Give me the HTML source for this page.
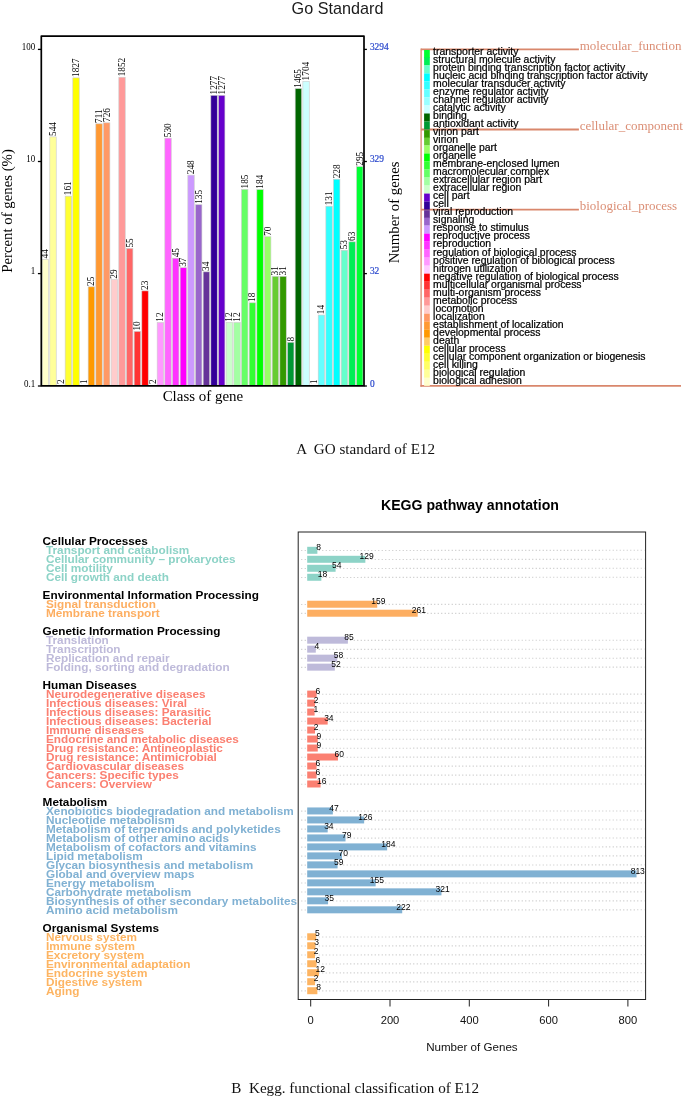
<!DOCTYPE html>
<html><head><meta charset="utf-8"><title>GO and KEGG</title>
<style>html,body{margin:0;padding:0;background:#fff}svg{display:block}</style></head>
<body><svg width="685" height="1098" viewBox="0 0 685 1098">
<rect width="685" height="1098" fill="#fff"/>
<text x="337.5" y="13.7" font-family="Liberation Sans, sans-serif" font-size="16.2" text-anchor="middle" fill="#1a1a1a">Go Standard</text>
<rect x="42.15" y="259.31" width="6.4" height="126.49" fill="#FFFFCC" stroke="#cccccc" stroke-width="0.6"/>
<text transform="translate(48.35,258.41) rotate(-90)" font-family="Liberation Serif, serif" font-size="9.3" fill="#000">44</text>
<rect x="49.82" y="136.88" width="6.4" height="248.92" fill="#FFFF99" stroke="#cccccc" stroke-width="0.6"/>
<text transform="translate(56.02,135.98) rotate(-90)" font-family="Liberation Serif, serif" font-size="9.3" fill="#000">544</text>
<text transform="translate(63.69,383.90) rotate(-90)" font-family="Liberation Serif, serif" font-size="9.3" fill="#000">2</text>
<rect x="65.15" y="196.15" width="6.4" height="189.65" fill="#FFFF33" stroke="#cccccc" stroke-width="0.6"/>
<text transform="translate(71.35,195.25) rotate(-90)" font-family="Liberation Serif, serif" font-size="9.3" fill="#000">161</text>
<rect x="72.82" y="77.90" width="6.4" height="307.90" fill="#FFFF00" stroke="#cccccc" stroke-width="0.6"/>
<text transform="translate(79.02,77.00) rotate(-90)" font-family="Liberation Serif, serif" font-size="9.3" fill="#000">1827</text>
<text transform="translate(86.69,383.90) rotate(-90)" font-family="Liberation Serif, serif" font-size="9.3" fill="#000">1</text>
<rect x="88.16" y="286.83" width="6.4" height="98.97" fill="#FF9900" stroke="#cccccc" stroke-width="0.6"/>
<text transform="translate(94.36,285.93) rotate(-90)" font-family="Liberation Serif, serif" font-size="9.3" fill="#000">25</text>
<rect x="95.83" y="123.84" width="6.4" height="261.96" fill="#FF9933" stroke="#cccccc" stroke-width="0.6"/>
<text transform="translate(102.03,122.94) rotate(-90)" font-family="Liberation Serif, serif" font-size="9.3" fill="#000">711</text>
<rect x="103.49" y="122.83" width="6.4" height="262.97" fill="#FF9966" stroke="#cccccc" stroke-width="0.6"/>
<text transform="translate(109.69,121.93) rotate(-90)" font-family="Liberation Serif, serif" font-size="9.3" fill="#000">726</text>
<rect x="111.16" y="279.60" width="6.4" height="106.20" fill="#FFCCCC" stroke="#cccccc" stroke-width="0.6"/>
<text transform="translate(117.36,278.70) rotate(-90)" font-family="Liberation Serif, serif" font-size="9.3" fill="#000">29</text>
<rect x="118.83" y="77.23" width="6.4" height="308.57" fill="#FF9999" stroke="#cccccc" stroke-width="0.6"/>
<text transform="translate(125.03,76.33) rotate(-90)" font-family="Liberation Serif, serif" font-size="9.3" fill="#000">1852</text>
<rect x="126.50" y="248.44" width="6.4" height="137.36" fill="#FF6666" stroke="#cccccc" stroke-width="0.6"/>
<text transform="translate(132.70,247.54) rotate(-90)" font-family="Liberation Serif, serif" font-size="9.3" fill="#000">55</text>
<rect x="134.17" y="331.44" width="6.4" height="54.36" fill="#FF3333" stroke="#cccccc" stroke-width="0.6"/>
<text transform="translate(140.37,330.54) rotate(-90)" font-family="Liberation Serif, serif" font-size="9.3" fill="#000">10</text>
<rect x="141.83" y="290.89" width="6.4" height="94.91" fill="#FF0000" stroke="#cccccc" stroke-width="0.6"/>
<text transform="translate(148.03,289.99) rotate(-90)" font-family="Liberation Serif, serif" font-size="9.3" fill="#000">23</text>
<text transform="translate(155.70,383.90) rotate(-90)" font-family="Liberation Serif, serif" font-size="9.3" fill="#000">2</text>
<rect x="157.17" y="322.56" width="6.4" height="63.24" fill="#FF99FF" stroke="#cccccc" stroke-width="0.6"/>
<text transform="translate(163.37,321.66) rotate(-90)" font-family="Liberation Serif, serif" font-size="9.3" fill="#000">12</text>
<rect x="164.84" y="138.15" width="6.4" height="247.65" fill="#FF66FF" stroke="#cccccc" stroke-width="0.6"/>
<text transform="translate(171.04,137.25) rotate(-90)" font-family="Liberation Serif, serif" font-size="9.3" fill="#000">530</text>
<rect x="172.51" y="258.21" width="6.4" height="127.59" fill="#FF33FF" stroke="#cccccc" stroke-width="0.6"/>
<text transform="translate(178.71,257.31) rotate(-90)" font-family="Liberation Serif, serif" font-size="9.3" fill="#000">45</text>
<rect x="180.17" y="267.74" width="6.4" height="118.06" fill="#FF00FF" stroke="#cccccc" stroke-width="0.6"/>
<text transform="translate(186.37,266.84) rotate(-90)" font-family="Liberation Serif, serif" font-size="9.3" fill="#000">37</text>
<rect x="187.84" y="175.12" width="6.4" height="210.68" fill="#CC99FF" stroke="#cccccc" stroke-width="0.6"/>
<text transform="translate(194.04,174.22) rotate(-90)" font-family="Liberation Serif, serif" font-size="9.3" fill="#000">248</text>
<rect x="195.51" y="204.73" width="6.4" height="181.07" fill="#9966CC" stroke="#cccccc" stroke-width="0.6"/>
<text transform="translate(201.71,203.83) rotate(-90)" font-family="Liberation Serif, serif" font-size="9.3" fill="#000">135</text>
<rect x="203.18" y="271.86" width="6.4" height="113.94" fill="#663399" stroke="#cccccc" stroke-width="0.6"/>
<text transform="translate(209.38,270.96) rotate(-90)" font-family="Liberation Serif, serif" font-size="9.3" fill="#000">34</text>
<rect x="210.85" y="95.33" width="6.4" height="290.47" fill="#330099" stroke="#cccccc" stroke-width="0.6"/>
<text transform="translate(217.05,94.43) rotate(-90)" font-family="Liberation Serif, serif" font-size="9.3" fill="#000">1277</text>
<rect x="218.51" y="95.33" width="6.4" height="290.47" fill="#6600CC" stroke="#cccccc" stroke-width="0.6"/>
<text transform="translate(224.71,94.43) rotate(-90)" font-family="Liberation Serif, serif" font-size="9.3" fill="#000">1277</text>
<rect x="226.18" y="322.56" width="6.4" height="63.24" fill="#CCFFCC" stroke="#cccccc" stroke-width="0.6"/>
<text transform="translate(232.38,321.66) rotate(-90)" font-family="Liberation Serif, serif" font-size="9.3" fill="#000">12</text>
<rect x="233.85" y="322.56" width="6.4" height="63.24" fill="#A3FFA3" stroke="#cccccc" stroke-width="0.6"/>
<text transform="translate(240.05,321.66) rotate(-90)" font-family="Liberation Serif, serif" font-size="9.3" fill="#000">12</text>
<rect x="241.52" y="189.39" width="6.4" height="196.41" fill="#66FF66" stroke="#cccccc" stroke-width="0.6"/>
<text transform="translate(247.72,188.49) rotate(-90)" font-family="Liberation Serif, serif" font-size="9.3" fill="#000">185</text>
<rect x="249.19" y="302.82" width="6.4" height="82.98" fill="#33FF33" stroke="#cccccc" stroke-width="0.6"/>
<text transform="translate(255.39,301.92) rotate(-90)" font-family="Liberation Serif, serif" font-size="9.3" fill="#000">18</text>
<rect x="256.85" y="189.65" width="6.4" height="196.15" fill="#00FF00" stroke="#cccccc" stroke-width="0.6"/>
<text transform="translate(263.05,188.75) rotate(-90)" font-family="Liberation Serif, serif" font-size="9.3" fill="#000">184</text>
<rect x="264.52" y="236.70" width="6.4" height="149.10" fill="#99FF66" stroke="#cccccc" stroke-width="0.6"/>
<text transform="translate(270.72,235.80) rotate(-90)" font-family="Liberation Serif, serif" font-size="9.3" fill="#000">70</text>
<rect x="272.19" y="276.36" width="6.4" height="109.44" fill="#66CC33" stroke="#cccccc" stroke-width="0.6"/>
<text transform="translate(278.39,275.46) rotate(-90)" font-family="Liberation Serif, serif" font-size="9.3" fill="#000">31</text>
<rect x="279.86" y="276.36" width="6.4" height="109.44" fill="#339900" stroke="#cccccc" stroke-width="0.6"/>
<text transform="translate(286.06,275.46) rotate(-90)" font-family="Liberation Serif, serif" font-size="9.3" fill="#000">31</text>
<rect x="287.53" y="342.30" width="6.4" height="43.50" fill="#009933" stroke="#cccccc" stroke-width="0.6"/>
<text transform="translate(293.73,341.40) rotate(-90)" font-family="Liberation Serif, serif" font-size="9.3" fill="#000">8</text>
<rect x="295.19" y="88.65" width="6.4" height="297.15" fill="#006600" stroke="#cccccc" stroke-width="0.6"/>
<text transform="translate(301.39,87.75) rotate(-90)" font-family="Liberation Serif, serif" font-size="9.3" fill="#000">1465</text>
<rect x="302.86" y="81.29" width="6.4" height="304.51" fill="#CCFFFF" stroke="#cccccc" stroke-width="0.6"/>
<text transform="translate(309.06,80.39) rotate(-90)" font-family="Liberation Serif, serif" font-size="9.3" fill="#000">1704</text>
<text transform="translate(316.73,383.90) rotate(-90)" font-family="Liberation Serif, serif" font-size="9.3" fill="#000">1</text>
<rect x="318.20" y="315.06" width="6.4" height="70.74" fill="#66FFFF" stroke="#cccccc" stroke-width="0.6"/>
<text transform="translate(324.40,314.16) rotate(-90)" font-family="Liberation Serif, serif" font-size="9.3" fill="#000">14</text>
<rect x="325.87" y="206.19" width="6.4" height="179.61" fill="#33FFFF" stroke="#cccccc" stroke-width="0.6"/>
<text transform="translate(332.07,205.29) rotate(-90)" font-family="Liberation Serif, serif" font-size="9.3" fill="#000">131</text>
<rect x="333.53" y="179.21" width="6.4" height="206.59" fill="#00FFFF" stroke="#cccccc" stroke-width="0.6"/>
<text transform="translate(339.73,178.31) rotate(-90)" font-family="Liberation Serif, serif" font-size="9.3" fill="#000">228</text>
<rect x="341.20" y="250.25" width="6.4" height="135.55" fill="#66FFCC" stroke="#cccccc" stroke-width="0.6"/>
<text transform="translate(347.40,249.35) rotate(-90)" font-family="Liberation Serif, serif" font-size="9.3" fill="#000">53</text>
<rect x="348.87" y="241.83" width="6.4" height="143.97" fill="#00EE55" stroke="#cccccc" stroke-width="0.6"/>
<text transform="translate(355.07,240.93) rotate(-90)" font-family="Liberation Serif, serif" font-size="9.3" fill="#000">63</text>
<rect x="356.54" y="166.67" width="6.4" height="219.13" fill="#00FF33" stroke="#cccccc" stroke-width="0.6"/>
<text transform="translate(362.74,165.77) rotate(-90)" font-family="Liberation Serif, serif" font-size="9.3" fill="#000">295</text>
<rect x="41.3" y="36.1" width="322.7" height="349.7" fill="none" stroke="#000" stroke-width="1.7" stroke-linejoin="round"/>
<line x1="37.9" y1="49.40" x2="41.3" y2="49.40" stroke="#000" stroke-width="1.3"/>
<line x1="364.0" y1="49.40" x2="366.9" y2="49.40" stroke="#000" stroke-width="1.3"/>
<text transform="translate(35.2,50.10) scale(1,1.08)" font-family="Liberation Serif, serif" font-size="9.0" text-anchor="end" fill="#000">100</text>
<text transform="translate(369.9,50.10) scale(1,1.08)" font-family="Liberation Serif, serif" font-size="9.4" fill="#2846CC" stroke="#2846CC" stroke-width="0.2">3294</text>
<line x1="37.9" y1="161.50" x2="41.3" y2="161.50" stroke="#000" stroke-width="1.3"/>
<line x1="364.0" y1="161.50" x2="366.9" y2="161.50" stroke="#000" stroke-width="1.3"/>
<text transform="translate(35.2,162.20) scale(1,1.08)" font-family="Liberation Serif, serif" font-size="9.0" text-anchor="end" fill="#000">10</text>
<text transform="translate(369.9,162.20) scale(1,1.08)" font-family="Liberation Serif, serif" font-size="9.4" fill="#2846CC" stroke="#2846CC" stroke-width="0.2">329</text>
<line x1="37.9" y1="273.60" x2="41.3" y2="273.60" stroke="#000" stroke-width="1.3"/>
<line x1="364.0" y1="273.60" x2="366.9" y2="273.60" stroke="#000" stroke-width="1.3"/>
<text transform="translate(35.2,274.30) scale(1,1.08)" font-family="Liberation Serif, serif" font-size="9.0" text-anchor="end" fill="#000">1</text>
<text transform="translate(369.9,274.30) scale(1,1.08)" font-family="Liberation Serif, serif" font-size="9.4" fill="#2846CC" stroke="#2846CC" stroke-width="0.2">32</text>
<line x1="37.9" y1="386.00" x2="41.3" y2="386.00" stroke="#000" stroke-width="1.3"/>
<line x1="364.0" y1="386.00" x2="366.9" y2="386.00" stroke="#000" stroke-width="1.3"/>
<text transform="translate(35.2,386.70) scale(1,1.08)" font-family="Liberation Serif, serif" font-size="9.0" text-anchor="end" fill="#000">0.1</text>
<text transform="translate(369.9,386.70) scale(1,1.08)" font-family="Liberation Serif, serif" font-size="9.4" fill="#2846CC" stroke="#2846CC" stroke-width="0.2">0</text>
<text transform="translate(11.8,211) rotate(-90)" font-family="Liberation Serif, serif" font-size="14.8" text-anchor="middle" fill="#000">Percent of genes (%)</text>
<text transform="translate(399.1,212.4) rotate(-90)" font-family="Liberation Serif, serif" font-size="14.8" text-anchor="middle" fill="#000">Number of genes</text>
<text x="202.9" y="400.6" font-family="Liberation Serif, serif" font-size="14.95" text-anchor="middle" fill="#000">Class of gene</text>
<line x1="421.1" y1="48.5" x2="421.1" y2="386.7" stroke="#D9876C" stroke-width="1.3"/>
<line x1="421.1" y1="49.40" x2="578.9" y2="49.40" stroke="#D9876C" stroke-width="1.9"/>
<text x="579.7" y="49.60"font-family="Liberation Serif, serif" font-size="13" fill="#DB8E75">molecular_function</text>
<line x1="421.1" y1="129.50" x2="578.9" y2="129.50" stroke="#D9876C" stroke-width="1.9"/>
<text x="579.7" y="129.70"font-family="Liberation Serif, serif" font-size="13" fill="#DB8E75">cellular_component</text>
<line x1="421.1" y1="209.59" x2="578.9" y2="209.59" stroke="#D9876C" stroke-width="1.9"/>
<text x="579.7" y="209.79"font-family="Liberation Serif, serif" font-size="13" fill="#DB8E75">biological_process</text>
<line x1="420.45000000000005" y1="385.8" x2="681" y2="385.8" stroke="#D9876C" stroke-width="1.8"/>
<rect x="424.1" y="50.00" width="5.7" height="8.06" fill="#00FF33"/>
<rect x="424.1" y="57.41" width="5.7" height="8.06" fill="#00EE55"/>
<rect x="424.1" y="65.42" width="5.7" height="8.06" fill="#66FFCC"/>
<rect x="424.1" y="73.43" width="5.7" height="8.06" fill="#00FFFF"/>
<rect x="424.1" y="81.44" width="5.7" height="8.06" fill="#33FFFF"/>
<rect x="424.1" y="89.45" width="5.7" height="8.06" fill="#66FFFF"/>
<rect x="424.1" y="97.46" width="5.7" height="8.06" fill="#99FFFF"/>
<rect x="424.1" y="105.47" width="5.7" height="8.06" fill="#CCFFFF"/>
<rect x="424.1" y="113.48" width="5.7" height="8.06" fill="#006600"/>
<rect x="424.1" y="121.49" width="5.7" height="8.06" fill="#009933"/>
<rect x="424.1" y="130.10" width="5.7" height="8.06" fill="#339900"/>
<rect x="424.1" y="137.50" width="5.7" height="8.06" fill="#66CC33"/>
<rect x="424.1" y="145.51" width="5.7" height="8.06" fill="#99FF66"/>
<rect x="424.1" y="153.52" width="5.7" height="8.06" fill="#00FF00"/>
<rect x="424.1" y="161.53" width="5.7" height="8.06" fill="#33FF33"/>
<rect x="424.1" y="169.54" width="5.7" height="8.06" fill="#66FF66"/>
<rect x="424.1" y="177.55" width="5.7" height="8.06" fill="#A3FFA3"/>
<rect x="424.1" y="185.56" width="5.7" height="8.06" fill="#CCFFCC"/>
<rect x="424.1" y="193.57" width="5.7" height="8.06" fill="#6600CC"/>
<rect x="424.1" y="201.58" width="5.7" height="8.06" fill="#330099"/>
<rect x="424.1" y="210.19" width="5.7" height="8.06" fill="#663399"/>
<rect x="424.1" y="217.60" width="5.7" height="8.06" fill="#9966CC"/>
<rect x="424.1" y="225.61" width="5.7" height="8.06" fill="#CC99FF"/>
<rect x="424.1" y="233.62" width="5.7" height="8.06" fill="#FF00FF"/>
<rect x="424.1" y="241.63" width="5.7" height="8.06" fill="#FF33FF"/>
<rect x="424.1" y="249.64" width="5.7" height="8.06" fill="#FF66FF"/>
<rect x="424.1" y="257.65" width="5.7" height="8.06" fill="#FF99FF"/>
<rect x="424.1" y="265.66" width="5.7" height="8.06" fill="#FFCCFF"/>
<rect x="424.1" y="273.67" width="5.7" height="8.06" fill="#FF0000"/>
<rect x="424.1" y="281.68" width="5.7" height="8.06" fill="#FF3333"/>
<rect x="424.1" y="289.69" width="5.7" height="8.06" fill="#FF6666"/>
<rect x="424.1" y="297.70" width="5.7" height="8.06" fill="#FF9999"/>
<rect x="424.1" y="305.70" width="5.7" height="8.06" fill="#FFCCCC"/>
<rect x="424.1" y="313.71" width="5.7" height="8.06" fill="#FF9966"/>
<rect x="424.1" y="321.72" width="5.7" height="8.06" fill="#FF9933"/>
<rect x="424.1" y="329.73" width="5.7" height="8.06" fill="#FF9900"/>
<rect x="424.1" y="337.74" width="5.7" height="8.06" fill="#FFCC66"/>
<rect x="424.1" y="345.75" width="5.7" height="8.06" fill="#FFFF00"/>
<rect x="424.1" y="353.76" width="5.7" height="8.06" fill="#FFFF33"/>
<rect x="424.1" y="361.77" width="5.7" height="8.06" fill="#FFFF66"/>
<rect x="424.1" y="369.78" width="5.7" height="8.06" fill="#FFFF99"/>
<rect x="424.1" y="377.79" width="5.7" height="8.06" fill="#FFFFCC"/>
<text x="433.1" y="55.00" font-family="Liberation Sans, sans-serif" font-size="10.45" fill="#000" stroke="#000" stroke-width="0.22">transporter activity</text>
<text x="433.1" y="63.02" font-family="Liberation Sans, sans-serif" font-size="10.45" fill="#000" stroke="#000" stroke-width="0.22">structural molecule activity</text>
<text x="433.1" y="71.04" font-family="Liberation Sans, sans-serif" font-size="10.45" fill="#000" stroke="#000" stroke-width="0.22">protein binding transcription factor activity</text>
<text x="433.1" y="79.06" font-family="Liberation Sans, sans-serif" font-size="10.45" fill="#000" stroke="#000" stroke-width="0.22">nucleic acid binding transcription factor activity</text>
<text x="433.1" y="87.08" font-family="Liberation Sans, sans-serif" font-size="10.45" fill="#000" stroke="#000" stroke-width="0.22">molecular transducer activity</text>
<text x="433.1" y="95.10" font-family="Liberation Sans, sans-serif" font-size="10.45" fill="#000" stroke="#000" stroke-width="0.22">enzyme regulator activity</text>
<text x="433.1" y="103.12" font-family="Liberation Sans, sans-serif" font-size="10.45" fill="#000" stroke="#000" stroke-width="0.22">channel regulator activity</text>
<text x="433.1" y="111.14" font-family="Liberation Sans, sans-serif" font-size="10.45" fill="#000" stroke="#000" stroke-width="0.22">catalytic activity</text>
<text x="433.1" y="119.16" font-family="Liberation Sans, sans-serif" font-size="10.45" fill="#000" stroke="#000" stroke-width="0.22">binding</text>
<text x="433.1" y="127.18" font-family="Liberation Sans, sans-serif" font-size="10.45" fill="#000" stroke="#000" stroke-width="0.22">antioxidant activity</text>
<text x="433.1" y="135.20" font-family="Liberation Sans, sans-serif" font-size="10.45" fill="#000" stroke="#000" stroke-width="0.22">virion part</text>
<text x="433.1" y="143.22" font-family="Liberation Sans, sans-serif" font-size="10.45" fill="#000" stroke="#000" stroke-width="0.22">virion</text>
<text x="433.1" y="151.24" font-family="Liberation Sans, sans-serif" font-size="10.45" fill="#000" stroke="#000" stroke-width="0.22">organelle part</text>
<text x="433.1" y="159.26" font-family="Liberation Sans, sans-serif" font-size="10.45" fill="#000" stroke="#000" stroke-width="0.22">organelle</text>
<text x="433.1" y="167.28" font-family="Liberation Sans, sans-serif" font-size="10.45" fill="#000" stroke="#000" stroke-width="0.22">membrane-enclosed lumen</text>
<text x="433.1" y="175.30" font-family="Liberation Sans, sans-serif" font-size="10.45" fill="#000" stroke="#000" stroke-width="0.22">macromolecular complex</text>
<text x="433.1" y="183.32" font-family="Liberation Sans, sans-serif" font-size="10.45" fill="#000" stroke="#000" stroke-width="0.22">extracellular region part</text>
<text x="433.1" y="191.34" font-family="Liberation Sans, sans-serif" font-size="10.45" fill="#000" stroke="#000" stroke-width="0.22">extracellular region</text>
<text x="433.1" y="199.36" font-family="Liberation Sans, sans-serif" font-size="10.45" fill="#000" stroke="#000" stroke-width="0.22">cell part</text>
<text x="433.1" y="207.38" font-family="Liberation Sans, sans-serif" font-size="10.45" fill="#000" stroke="#000" stroke-width="0.22">cell</text>
<text x="433.1" y="215.40" font-family="Liberation Sans, sans-serif" font-size="10.45" fill="#000" stroke="#000" stroke-width="0.22">viral reproduction</text>
<text x="433.1" y="223.42" font-family="Liberation Sans, sans-serif" font-size="10.45" fill="#000" stroke="#000" stroke-width="0.22">signaling</text>
<text x="433.1" y="231.44" font-family="Liberation Sans, sans-serif" font-size="10.45" fill="#000" stroke="#000" stroke-width="0.22">response to stimulus</text>
<text x="433.1" y="239.46" font-family="Liberation Sans, sans-serif" font-size="10.45" fill="#000" stroke="#000" stroke-width="0.22">reproductive process</text>
<text x="433.1" y="247.48" font-family="Liberation Sans, sans-serif" font-size="10.45" fill="#000" stroke="#000" stroke-width="0.22">reproduction</text>
<text x="433.1" y="255.50" font-family="Liberation Sans, sans-serif" font-size="10.45" fill="#000" stroke="#000" stroke-width="0.22">regulation of biological process</text>
<text x="433.1" y="263.52" font-family="Liberation Sans, sans-serif" font-size="10.45" fill="#000" stroke="#000" stroke-width="0.22">positive regulation of biological process</text>
<text x="433.1" y="271.54" font-family="Liberation Sans, sans-serif" font-size="10.45" fill="#000" stroke="#000" stroke-width="0.22">nitrogen utilization</text>
<text x="433.1" y="279.56" font-family="Liberation Sans, sans-serif" font-size="10.45" fill="#000" stroke="#000" stroke-width="0.22">negative regulation of biological process</text>
<text x="433.1" y="287.58" font-family="Liberation Sans, sans-serif" font-size="10.45" fill="#000" stroke="#000" stroke-width="0.22">multicellular organismal process</text>
<text x="433.1" y="295.60" font-family="Liberation Sans, sans-serif" font-size="10.45" fill="#000" stroke="#000" stroke-width="0.22">multi-organism process</text>
<text x="433.1" y="303.62" font-family="Liberation Sans, sans-serif" font-size="10.45" fill="#000" stroke="#000" stroke-width="0.22">metabolic process</text>
<text x="433.1" y="311.64" font-family="Liberation Sans, sans-serif" font-size="10.45" fill="#000" stroke="#000" stroke-width="0.22">locomotion</text>
<text x="433.1" y="319.66" font-family="Liberation Sans, sans-serif" font-size="10.45" fill="#000" stroke="#000" stroke-width="0.22">localization</text>
<text x="433.1" y="327.68" font-family="Liberation Sans, sans-serif" font-size="10.45" fill="#000" stroke="#000" stroke-width="0.22">establishment of localization</text>
<text x="433.1" y="335.70" font-family="Liberation Sans, sans-serif" font-size="10.45" fill="#000" stroke="#000" stroke-width="0.22">developmental process</text>
<text x="433.1" y="343.72" font-family="Liberation Sans, sans-serif" font-size="10.45" fill="#000" stroke="#000" stroke-width="0.22">death</text>
<text x="433.1" y="351.74" font-family="Liberation Sans, sans-serif" font-size="10.45" fill="#000" stroke="#000" stroke-width="0.22">cellular process</text>
<text x="433.1" y="359.76" font-family="Liberation Sans, sans-serif" font-size="10.45" fill="#000" stroke="#000" stroke-width="0.22">cellular component organization or biogenesis</text>
<text x="433.1" y="367.78" font-family="Liberation Sans, sans-serif" font-size="10.45" fill="#000" stroke="#000" stroke-width="0.22">cell killing</text>
<text x="433.1" y="375.80" font-family="Liberation Sans, sans-serif" font-size="10.45" fill="#000" stroke="#000" stroke-width="0.22">biological regulation</text>
<text x="433.1" y="383.82" font-family="Liberation Sans, sans-serif" font-size="10.45" fill="#000" stroke="#000" stroke-width="0.22">biological adhesion</text>
<text x="296.2" y="454.1" font-family="Liberation Serif, serif" font-size="15.1" fill="#111" xml:space="preserve">A  GO standard of E12</text>
<text x="470" y="509.9" font-family="Liberation Sans, sans-serif" font-size="14.12" font-weight="bold" text-anchor="middle" fill="#000">KEGG pathway annotation</text>
<line x1="301.2" y1="550.50" x2="644.6" y2="550.30" stroke="#cacaca" stroke-width="1.1" stroke-dasharray="1.1 2.4"/>
<line x1="301.2" y1="559.49" x2="644.6" y2="559.29" stroke="#cacaca" stroke-width="1.1" stroke-dasharray="1.1 2.4"/>
<line x1="301.2" y1="568.48" x2="644.6" y2="568.28" stroke="#cacaca" stroke-width="1.1" stroke-dasharray="1.1 2.4"/>
<line x1="301.2" y1="577.46" x2="644.6" y2="577.26" stroke="#cacaca" stroke-width="1.1" stroke-dasharray="1.1 2.4"/>
<line x1="301.2" y1="604.43" x2="644.6" y2="604.23" stroke="#cacaca" stroke-width="1.1" stroke-dasharray="1.1 2.4"/>
<line x1="301.2" y1="613.42" x2="644.6" y2="613.22" stroke="#cacaca" stroke-width="1.1" stroke-dasharray="1.1 2.4"/>
<line x1="301.2" y1="640.38" x2="644.6" y2="640.18" stroke="#cacaca" stroke-width="1.1" stroke-dasharray="1.1 2.4"/>
<line x1="301.2" y1="649.37" x2="644.6" y2="649.17" stroke="#cacaca" stroke-width="1.1" stroke-dasharray="1.1 2.4"/>
<line x1="301.2" y1="658.36" x2="644.6" y2="658.16" stroke="#cacaca" stroke-width="1.1" stroke-dasharray="1.1 2.4"/>
<line x1="301.2" y1="667.34" x2="644.6" y2="667.14" stroke="#cacaca" stroke-width="1.1" stroke-dasharray="1.1 2.4"/>
<line x1="301.2" y1="694.31" x2="644.6" y2="694.11" stroke="#cacaca" stroke-width="1.1" stroke-dasharray="1.1 2.4"/>
<line x1="301.2" y1="703.30" x2="644.6" y2="703.10" stroke="#cacaca" stroke-width="1.1" stroke-dasharray="1.1 2.4"/>
<line x1="301.2" y1="712.28" x2="644.6" y2="712.08" stroke="#cacaca" stroke-width="1.1" stroke-dasharray="1.1 2.4"/>
<line x1="301.2" y1="721.27" x2="644.6" y2="721.07" stroke="#cacaca" stroke-width="1.1" stroke-dasharray="1.1 2.4"/>
<line x1="301.2" y1="730.26" x2="644.6" y2="730.06" stroke="#cacaca" stroke-width="1.1" stroke-dasharray="1.1 2.4"/>
<line x1="301.2" y1="739.25" x2="644.6" y2="739.05" stroke="#cacaca" stroke-width="1.1" stroke-dasharray="1.1 2.4"/>
<line x1="301.2" y1="748.24" x2="644.6" y2="748.04" stroke="#cacaca" stroke-width="1.1" stroke-dasharray="1.1 2.4"/>
<line x1="301.2" y1="757.22" x2="644.6" y2="757.02" stroke="#cacaca" stroke-width="1.1" stroke-dasharray="1.1 2.4"/>
<line x1="301.2" y1="766.21" x2="644.6" y2="766.01" stroke="#cacaca" stroke-width="1.1" stroke-dasharray="1.1 2.4"/>
<line x1="301.2" y1="775.20" x2="644.6" y2="775.00" stroke="#cacaca" stroke-width="1.1" stroke-dasharray="1.1 2.4"/>
<line x1="301.2" y1="784.19" x2="644.6" y2="783.99" stroke="#cacaca" stroke-width="1.1" stroke-dasharray="1.1 2.4"/>
<line x1="301.2" y1="811.15" x2="644.6" y2="810.95" stroke="#cacaca" stroke-width="1.1" stroke-dasharray="1.1 2.4"/>
<line x1="301.2" y1="820.14" x2="644.6" y2="819.94" stroke="#cacaca" stroke-width="1.1" stroke-dasharray="1.1 2.4"/>
<line x1="301.2" y1="829.13" x2="644.6" y2="828.93" stroke="#cacaca" stroke-width="1.1" stroke-dasharray="1.1 2.4"/>
<line x1="301.2" y1="838.12" x2="644.6" y2="837.92" stroke="#cacaca" stroke-width="1.1" stroke-dasharray="1.1 2.4"/>
<line x1="301.2" y1="847.10" x2="644.6" y2="846.90" stroke="#cacaca" stroke-width="1.1" stroke-dasharray="1.1 2.4"/>
<line x1="301.2" y1="856.09" x2="644.6" y2="855.89" stroke="#cacaca" stroke-width="1.1" stroke-dasharray="1.1 2.4"/>
<line x1="301.2" y1="865.08" x2="644.6" y2="864.88" stroke="#cacaca" stroke-width="1.1" stroke-dasharray="1.1 2.4"/>
<line x1="301.2" y1="874.07" x2="644.6" y2="873.87" stroke="#cacaca" stroke-width="1.1" stroke-dasharray="1.1 2.4"/>
<line x1="301.2" y1="883.06" x2="644.6" y2="882.86" stroke="#cacaca" stroke-width="1.1" stroke-dasharray="1.1 2.4"/>
<line x1="301.2" y1="892.04" x2="644.6" y2="891.84" stroke="#cacaca" stroke-width="1.1" stroke-dasharray="1.1 2.4"/>
<line x1="301.2" y1="901.03" x2="644.6" y2="900.83" stroke="#cacaca" stroke-width="1.1" stroke-dasharray="1.1 2.4"/>
<line x1="301.2" y1="910.02" x2="644.6" y2="909.82" stroke="#cacaca" stroke-width="1.1" stroke-dasharray="1.1 2.4"/>
<line x1="301.2" y1="936.98" x2="644.6" y2="936.78" stroke="#cacaca" stroke-width="1.1" stroke-dasharray="1.1 2.4"/>
<line x1="301.2" y1="945.97" x2="644.6" y2="945.77" stroke="#cacaca" stroke-width="1.1" stroke-dasharray="1.1 2.4"/>
<line x1="301.2" y1="954.96" x2="644.6" y2="954.76" stroke="#cacaca" stroke-width="1.1" stroke-dasharray="1.1 2.4"/>
<line x1="301.2" y1="963.95" x2="644.6" y2="963.75" stroke="#cacaca" stroke-width="1.1" stroke-dasharray="1.1 2.4"/>
<line x1="301.2" y1="972.94" x2="644.6" y2="972.74" stroke="#cacaca" stroke-width="1.1" stroke-dasharray="1.1 2.4"/>
<line x1="301.2" y1="981.92" x2="644.6" y2="981.72" stroke="#cacaca" stroke-width="1.1" stroke-dasharray="1.1 2.4"/>
<line x1="301.2" y1="990.91" x2="644.6" y2="990.71" stroke="#cacaca" stroke-width="1.1" stroke-dasharray="1.1 2.4"/>
<rect x="307.2" y="546.80" width="10.17" height="7.0" fill="#8DD3C7"/>
<rect x="307.2" y="555.79" width="58.15" height="7.0" fill="#8DD3C7"/>
<rect x="307.2" y="564.78" width="28.41" height="7.0" fill="#8DD3C7"/>
<rect x="307.2" y="573.76" width="14.14" height="7.0" fill="#8DD3C7"/>
<rect x="307.2" y="600.73" width="70.04" height="7.0" fill="#FDAE61"/>
<rect x="307.2" y="609.72" width="110.49" height="7.0" fill="#FDAE61"/>
<rect x="307.2" y="636.68" width="40.70" height="7.0" fill="#BEBADA"/>
<rect x="307.2" y="645.67" width="8.59" height="7.0" fill="#BEBADA"/>
<rect x="307.2" y="654.66" width="30.00" height="7.0" fill="#BEBADA"/>
<rect x="307.2" y="663.64" width="27.62" height="7.0" fill="#BEBADA"/>
<rect x="307.2" y="690.61" width="9.38" height="7.0" fill="#FB8072"/>
<rect x="307.2" y="699.60" width="7.79" height="7.0" fill="#FB8072"/>
<rect x="307.2" y="708.58" width="7.40" height="7.0" fill="#FB8072"/>
<rect x="307.2" y="717.57" width="20.48" height="7.0" fill="#FB8072"/>
<rect x="307.2" y="726.56" width="7.79" height="7.0" fill="#FB8072"/>
<rect x="307.2" y="735.55" width="10.57" height="7.0" fill="#FB8072"/>
<rect x="307.2" y="744.54" width="10.57" height="7.0" fill="#FB8072"/>
<rect x="307.2" y="753.52" width="30.79" height="7.0" fill="#FB8072"/>
<rect x="307.2" y="762.51" width="9.38" height="7.0" fill="#FB8072"/>
<rect x="307.2" y="771.50" width="9.38" height="7.0" fill="#FB8072"/>
<rect x="307.2" y="780.49" width="13.34" height="7.0" fill="#FB8072"/>
<rect x="307.2" y="807.45" width="25.64" height="7.0" fill="#80B1D3"/>
<rect x="307.2" y="816.44" width="56.96" height="7.0" fill="#80B1D3"/>
<rect x="307.2" y="825.43" width="20.48" height="7.0" fill="#80B1D3"/>
<rect x="307.2" y="834.42" width="38.32" height="7.0" fill="#80B1D3"/>
<rect x="307.2" y="843.40" width="79.96" height="7.0" fill="#80B1D3"/>
<rect x="307.2" y="852.39" width="34.75" height="7.0" fill="#80B1D3"/>
<rect x="307.2" y="861.38" width="30.39" height="7.0" fill="#80B1D3"/>
<rect x="307.2" y="870.37" width="329.35" height="7.0" fill="#80B1D3"/>
<rect x="307.2" y="879.36" width="68.46" height="7.0" fill="#80B1D3"/>
<rect x="307.2" y="888.34" width="134.28" height="7.0" fill="#80B1D3"/>
<rect x="307.2" y="897.33" width="20.88" height="7.0" fill="#80B1D3"/>
<rect x="307.2" y="906.32" width="95.02" height="7.0" fill="#80B1D3"/>
<rect x="307.2" y="933.28" width="8.98" height="7.0" fill="#FDB462"/>
<rect x="307.2" y="942.27" width="8.19" height="7.0" fill="#FDB462"/>
<rect x="307.2" y="951.26" width="7.79" height="7.0" fill="#FDB462"/>
<rect x="307.2" y="960.25" width="9.38" height="7.0" fill="#FDB462"/>
<rect x="307.2" y="969.24" width="11.76" height="7.0" fill="#FDB462"/>
<rect x="307.2" y="978.22" width="7.79" height="7.0" fill="#FDB462"/>
<rect x="307.2" y="987.21" width="10.17" height="7.0" fill="#FDB462"/>
<text x="318.57" y="550.00" font-family="Liberation Sans, sans-serif" font-size="8.5" text-anchor="middle" fill="#000">8</text>
<text x="366.55" y="558.99" font-family="Liberation Sans, sans-serif" font-size="8.5" text-anchor="middle" fill="#000">129</text>
<text x="336.81" y="567.98" font-family="Liberation Sans, sans-serif" font-size="8.5" text-anchor="middle" fill="#000">54</text>
<text x="322.54" y="576.96" font-family="Liberation Sans, sans-serif" font-size="8.5" text-anchor="middle" fill="#000">18</text>
<text x="378.44" y="603.93" font-family="Liberation Sans, sans-serif" font-size="8.5" text-anchor="middle" fill="#000">159</text>
<text x="418.89" y="612.92" font-family="Liberation Sans, sans-serif" font-size="8.5" text-anchor="middle" fill="#000">261</text>
<text x="349.10" y="639.88" font-family="Liberation Sans, sans-serif" font-size="8.5" text-anchor="middle" fill="#000">85</text>
<text x="316.99" y="648.87" font-family="Liberation Sans, sans-serif" font-size="8.5" text-anchor="middle" fill="#000">4</text>
<text x="338.40" y="657.86" font-family="Liberation Sans, sans-serif" font-size="8.5" text-anchor="middle" fill="#000">58</text>
<text x="336.02" y="666.84" font-family="Liberation Sans, sans-serif" font-size="8.5" text-anchor="middle" fill="#000">52</text>
<text x="317.78" y="693.81" font-family="Liberation Sans, sans-serif" font-size="8.5" text-anchor="middle" fill="#000">6</text>
<text x="316.19" y="702.80" font-family="Liberation Sans, sans-serif" font-size="8.5" text-anchor="middle" fill="#000">2</text>
<text x="315.80" y="711.78" font-family="Liberation Sans, sans-serif" font-size="8.5" text-anchor="middle" fill="#000">1</text>
<text x="328.88" y="720.77" font-family="Liberation Sans, sans-serif" font-size="8.5" text-anchor="middle" fill="#000">34</text>
<text x="316.19" y="729.76" font-family="Liberation Sans, sans-serif" font-size="8.5" text-anchor="middle" fill="#000">2</text>
<text x="318.97" y="738.75" font-family="Liberation Sans, sans-serif" font-size="8.5" text-anchor="middle" fill="#000">9</text>
<text x="318.97" y="747.74" font-family="Liberation Sans, sans-serif" font-size="8.5" text-anchor="middle" fill="#000">9</text>
<text x="339.19" y="756.72" font-family="Liberation Sans, sans-serif" font-size="8.5" text-anchor="middle" fill="#000">60</text>
<text x="317.78" y="765.71" font-family="Liberation Sans, sans-serif" font-size="8.5" text-anchor="middle" fill="#000">6</text>
<text x="317.78" y="774.70" font-family="Liberation Sans, sans-serif" font-size="8.5" text-anchor="middle" fill="#000">6</text>
<text x="321.74" y="783.69" font-family="Liberation Sans, sans-serif" font-size="8.5" text-anchor="middle" fill="#000">16</text>
<text x="334.04" y="810.65" font-family="Liberation Sans, sans-serif" font-size="8.5" text-anchor="middle" fill="#000">47</text>
<text x="365.36" y="819.64" font-family="Liberation Sans, sans-serif" font-size="8.5" text-anchor="middle" fill="#000">126</text>
<text x="328.88" y="828.63" font-family="Liberation Sans, sans-serif" font-size="8.5" text-anchor="middle" fill="#000">34</text>
<text x="346.72" y="837.62" font-family="Liberation Sans, sans-serif" font-size="8.5" text-anchor="middle" fill="#000">79</text>
<text x="388.36" y="846.60" font-family="Liberation Sans, sans-serif" font-size="8.5" text-anchor="middle" fill="#000">184</text>
<text x="343.15" y="855.59" font-family="Liberation Sans, sans-serif" font-size="8.5" text-anchor="middle" fill="#000">70</text>
<text x="338.79" y="864.58" font-family="Liberation Sans, sans-serif" font-size="8.5" text-anchor="middle" fill="#000">59</text>
<text x="637.75" y="873.57" font-family="Liberation Sans, sans-serif" font-size="8.5" text-anchor="middle" fill="#000">813</text>
<text x="376.86" y="882.56" font-family="Liberation Sans, sans-serif" font-size="8.5" text-anchor="middle" fill="#000">155</text>
<text x="442.68" y="891.54" font-family="Liberation Sans, sans-serif" font-size="8.5" text-anchor="middle" fill="#000">321</text>
<text x="329.28" y="900.53" font-family="Liberation Sans, sans-serif" font-size="8.5" text-anchor="middle" fill="#000">35</text>
<text x="403.42" y="909.52" font-family="Liberation Sans, sans-serif" font-size="8.5" text-anchor="middle" fill="#000">222</text>
<text x="317.38" y="936.48" font-family="Liberation Sans, sans-serif" font-size="8.5" text-anchor="middle" fill="#000">5</text>
<text x="316.59" y="945.47" font-family="Liberation Sans, sans-serif" font-size="8.5" text-anchor="middle" fill="#000">3</text>
<text x="316.19" y="954.46" font-family="Liberation Sans, sans-serif" font-size="8.5" text-anchor="middle" fill="#000">2</text>
<text x="317.78" y="963.45" font-family="Liberation Sans, sans-serif" font-size="8.5" text-anchor="middle" fill="#000">6</text>
<text x="320.16" y="972.44" font-family="Liberation Sans, sans-serif" font-size="8.5" text-anchor="middle" fill="#000">12</text>
<text x="316.19" y="981.42" font-family="Liberation Sans, sans-serif" font-size="8.5" text-anchor="middle" fill="#000">2</text>
<text x="318.57" y="990.41" font-family="Liberation Sans, sans-serif" font-size="8.5" text-anchor="middle" fill="#000">8</text>
<text x="42.6" y="545.41" font-family="Liberation Sans, sans-serif" font-size="11.78" font-weight="bold" fill="#000">Cellular Processes</text>
<text x="46" y="554.40" font-family="Liberation Sans, sans-serif" font-size="11.78" font-weight="bold" fill="#8DD3C7">Transport and catabolism</text>
<text x="46" y="563.39" font-family="Liberation Sans, sans-serif" font-size="11.78" font-weight="bold" fill="#8DD3C7">Cellular community – prokaryotes</text>
<text x="46" y="572.38" font-family="Liberation Sans, sans-serif" font-size="11.78" font-weight="bold" fill="#8DD3C7">Cell motility</text>
<text x="46" y="581.36" font-family="Liberation Sans, sans-serif" font-size="11.78" font-weight="bold" fill="#8DD3C7">Cell growth and death</text>
<text x="42.6" y="599.34" font-family="Liberation Sans, sans-serif" font-size="11.78" font-weight="bold" fill="#000">Environmental Information Processing</text>
<text x="46" y="608.33" font-family="Liberation Sans, sans-serif" font-size="11.78" font-weight="bold" fill="#FDAE61">Signal transduction</text>
<text x="46" y="617.32" font-family="Liberation Sans, sans-serif" font-size="11.78" font-weight="bold" fill="#FDAE61">Membrane transport</text>
<text x="42.6" y="635.29" font-family="Liberation Sans, sans-serif" font-size="11.78" font-weight="bold" fill="#000">Genetic Information Processing</text>
<text x="46" y="644.28" font-family="Liberation Sans, sans-serif" font-size="11.78" font-weight="bold" fill="#BEBADA">Translation</text>
<text x="46" y="653.27" font-family="Liberation Sans, sans-serif" font-size="11.78" font-weight="bold" fill="#BEBADA">Transcription</text>
<text x="46" y="662.26" font-family="Liberation Sans, sans-serif" font-size="11.78" font-weight="bold" fill="#BEBADA">Replication and repair</text>
<text x="46" y="671.24" font-family="Liberation Sans, sans-serif" font-size="11.78" font-weight="bold" fill="#BEBADA">Folding, sorting and degradation</text>
<text x="42.6" y="689.22" font-family="Liberation Sans, sans-serif" font-size="11.78" font-weight="bold" fill="#000">Human Diseases</text>
<text x="46" y="698.21" font-family="Liberation Sans, sans-serif" font-size="11.78" font-weight="bold" fill="#FB8072">Neurodegenerative diseases</text>
<text x="46" y="707.20" font-family="Liberation Sans, sans-serif" font-size="11.78" font-weight="bold" fill="#FB8072">Infectious diseases: Viral</text>
<text x="46" y="716.18" font-family="Liberation Sans, sans-serif" font-size="11.78" font-weight="bold" fill="#FB8072">Infectious diseases: Parasitic</text>
<text x="46" y="725.17" font-family="Liberation Sans, sans-serif" font-size="11.78" font-weight="bold" fill="#FB8072">Infectious diseases: Bacterial</text>
<text x="46" y="734.16" font-family="Liberation Sans, sans-serif" font-size="11.78" font-weight="bold" fill="#FB8072">Immune diseases</text>
<text x="46" y="743.15" font-family="Liberation Sans, sans-serif" font-size="11.78" font-weight="bold" fill="#FB8072">Endocrine and metabolic diseases</text>
<text x="46" y="752.14" font-family="Liberation Sans, sans-serif" font-size="11.78" font-weight="bold" fill="#FB8072">Drug resistance: Antineoplastic</text>
<text x="46" y="761.12" font-family="Liberation Sans, sans-serif" font-size="11.78" font-weight="bold" fill="#FB8072">Drug resistance: Antimicrobial</text>
<text x="46" y="770.11" font-family="Liberation Sans, sans-serif" font-size="11.78" font-weight="bold" fill="#FB8072">Cardiovascular diseases</text>
<text x="46" y="779.10" font-family="Liberation Sans, sans-serif" font-size="11.78" font-weight="bold" fill="#FB8072">Cancers: Specific types</text>
<text x="46" y="788.09" font-family="Liberation Sans, sans-serif" font-size="11.78" font-weight="bold" fill="#FB8072">Cancers: Overview</text>
<text x="42.6" y="806.06" font-family="Liberation Sans, sans-serif" font-size="11.78" font-weight="bold" fill="#000">Metabolism</text>
<text x="46" y="815.05" font-family="Liberation Sans, sans-serif" font-size="11.78" font-weight="bold" fill="#80B1D3">Xenobiotics biodegradation and metabolism</text>
<text x="46" y="824.04" font-family="Liberation Sans, sans-serif" font-size="11.78" font-weight="bold" fill="#80B1D3">Nucleotide metabolism</text>
<text x="46" y="833.03" font-family="Liberation Sans, sans-serif" font-size="11.78" font-weight="bold" fill="#80B1D3">Metabolism of terpenoids and polyketides</text>
<text x="46" y="842.02" font-family="Liberation Sans, sans-serif" font-size="11.78" font-weight="bold" fill="#80B1D3">Metabolism of other amino acids</text>
<text x="46" y="851.00" font-family="Liberation Sans, sans-serif" font-size="11.78" font-weight="bold" fill="#80B1D3">Metabolism of cofactors and vitamins</text>
<text x="46" y="859.99" font-family="Liberation Sans, sans-serif" font-size="11.78" font-weight="bold" fill="#80B1D3">Lipid metabolism</text>
<text x="46" y="868.98" font-family="Liberation Sans, sans-serif" font-size="11.78" font-weight="bold" fill="#80B1D3">Glycan biosynthesis and metabolism</text>
<text x="46" y="877.97" font-family="Liberation Sans, sans-serif" font-size="11.78" font-weight="bold" fill="#80B1D3">Global and overview maps</text>
<text x="46" y="886.96" font-family="Liberation Sans, sans-serif" font-size="11.78" font-weight="bold" fill="#80B1D3">Energy metabolism</text>
<text x="46" y="895.94" font-family="Liberation Sans, sans-serif" font-size="11.78" font-weight="bold" fill="#80B1D3">Carbohydrate metabolism</text>
<text x="46" y="904.93" font-family="Liberation Sans, sans-serif" font-size="11.78" font-weight="bold" fill="#80B1D3">Biosynthesis of other secondary metabolites</text>
<text x="46" y="913.92" font-family="Liberation Sans, sans-serif" font-size="11.78" font-weight="bold" fill="#80B1D3">Amino acid metabolism</text>
<text x="42.6" y="931.90" font-family="Liberation Sans, sans-serif" font-size="11.78" font-weight="bold" fill="#000">Organismal Systems</text>
<text x="46" y="940.88" font-family="Liberation Sans, sans-serif" font-size="11.78" font-weight="bold" fill="#FDB462">Nervous system</text>
<text x="46" y="949.87" font-family="Liberation Sans, sans-serif" font-size="11.78" font-weight="bold" fill="#FDB462">Immune system</text>
<text x="46" y="958.86" font-family="Liberation Sans, sans-serif" font-size="11.78" font-weight="bold" fill="#FDB462">Excretory system</text>
<text x="46" y="967.85" font-family="Liberation Sans, sans-serif" font-size="11.78" font-weight="bold" fill="#FDB462">Environmental adaptation</text>
<text x="46" y="976.84" font-family="Liberation Sans, sans-serif" font-size="11.78" font-weight="bold" fill="#FDB462">Endocrine system</text>
<text x="46" y="985.82" font-family="Liberation Sans, sans-serif" font-size="11.78" font-weight="bold" fill="#FDB462">Digestive system</text>
<text x="46" y="994.81" font-family="Liberation Sans, sans-serif" font-size="11.78" font-weight="bold" fill="#FDB462">Aging</text>
<rect x="298.2" y="532.0" width="347.40000000000003" height="467.5" fill="none" stroke="#222" stroke-width="1"/>
<line x1="310.70" y1="999.5" x2="310.70" y2="1006.5" stroke="#222" stroke-width="1"/>
<text x="310.70" y="1023.9" font-family="Liberation Sans, sans-serif" font-size="11.2" text-anchor="middle" fill="#111">0</text>
<line x1="390.00" y1="999.5" x2="390.00" y2="1006.5" stroke="#222" stroke-width="1"/>
<text x="390.00" y="1023.9" font-family="Liberation Sans, sans-serif" font-size="11.2" text-anchor="middle" fill="#111">200</text>
<line x1="469.30" y1="999.5" x2="469.30" y2="1006.5" stroke="#222" stroke-width="1"/>
<text x="469.30" y="1023.9" font-family="Liberation Sans, sans-serif" font-size="11.2" text-anchor="middle" fill="#111">400</text>
<line x1="548.60" y1="999.5" x2="548.60" y2="1006.5" stroke="#222" stroke-width="1"/>
<text x="548.60" y="1023.9" font-family="Liberation Sans, sans-serif" font-size="11.2" text-anchor="middle" fill="#111">600</text>
<line x1="627.90" y1="999.5" x2="627.90" y2="1006.5" stroke="#222" stroke-width="1"/>
<text x="627.90" y="1023.9" font-family="Liberation Sans, sans-serif" font-size="11.2" text-anchor="middle" fill="#111">800</text>
<text x="471.9" y="1050.5" font-family="Liberation Sans, sans-serif" font-size="11.6" text-anchor="middle" fill="#111">Number of Genes</text>
<text x="231.3" y="1093" font-family="Liberation Serif, serif" font-size="15.15" fill="#111" xml:space="preserve">B  Kegg. functional classification of E12</text>
</svg></body></html>
